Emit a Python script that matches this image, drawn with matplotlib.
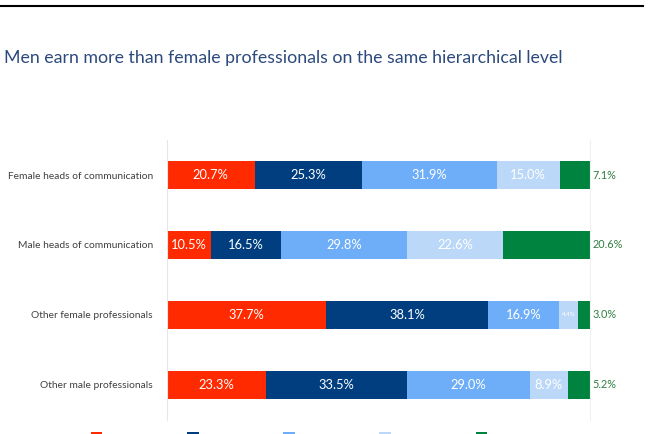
import matplotlib
matplotlib.use('Agg')
import matplotlib.pyplot as plt
from matplotlib.lines import Line2D
import numpy as np

plt.rcParams['font.family'] = ['Lato', 'DejaVu Sans']

categories = ["Female heads of communication", "Male heads of communication",
              "Other female professionals", "Other male professionals"]
s1 = [20.7, 10.5, 37.7, 23.3]
s2 = [25.3, 16.5, 38.1, 33.5]
s3 = [31.9, 29.8, 16.9, 29.0]
s4 = [15.0, 22.6, 4.4, 8.9]
s5 = [7.1, 20.6, 3.0, 5.2]

colors = ["#ff2a00", "#003e80", "#6eaef8", "#bcd8f8", "#00833e"]
series = [s1, s2, s3, s4, s5]

fig = plt.figure(figsize=(6.48, 4.34), dpi=100)
ax = fig.add_axes([0.2577, 0.0323, 0.6528, 0.6451])

y = np.arange(len(categories))
left = np.zeros(len(categories))
handles = []
for k, (vals, col) in enumerate(zip(series, colors)):
    vals = np.array(vals)
    bars = ax.barh(y, vals, left=left, height=0.4, color=col)
    handles.append(bars)
    for i, v in enumerate(vals):
        if k == 4:
            ax.text(100.6, y[i], "%.1f%%" % v, va='center', ha='left',
                    fontsize=7.8, color="#2e7d3e")
        else:
            fs = 4.5 if v < 5 else 9.3
            ax.text(left[i] + v / 2, y[i], "%.1f%%" % v, va='center', ha='center',
                    fontsize=fs, color='white')
    left = left + vals

ax.set_xlim(0, 100)
ax.set_ylim(3.5, -0.5)
ax.set_yticks(y)
ax.set_yticklabels(categories, fontsize=7.4, color="#404040")
ax.tick_params(axis='y', length=0, pad=10)
ax.set_xticks([])
for s in ['top', 'bottom']:
    ax.spines[s].set_visible(False)
ax.spines['left'].set_color('#e6e6e6')
ax.spines['right'].set_color('#f0f0f0')

fig.text(0.006, 0.866, "Men earn more than female professionals on the same hierarchical level",
         fontsize=12.8, color="#2d4a7c", ha='left', va='center')

fig.add_artist(Line2D([0.0, 0.992], [0.987, 0.987], color='black', lw=1.5,
                      transform=fig.transFigure))

# legend swatches, only their tops show at the bottom edge
fig.legend(handles=handles, labels=[""] * 5, ncol=5, loc='upper center',
           bbox_to_anchor=(0.446, 0.006), frameon=False, fontsize=7,
           borderpad=0, borderaxespad=0,
           handlelength=1.2, handletextpad=0, columnspacing=8.7)

fig.savefig("out.png", dpi=100)
